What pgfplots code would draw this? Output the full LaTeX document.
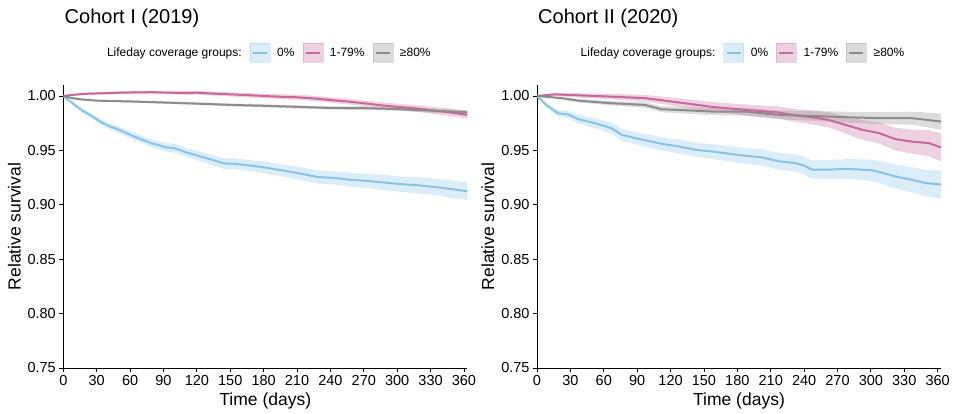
\documentclass[border=0pt]{standalone}
\usepackage{fontspec}
\setmainfont{Liberation Sans}
\usepackage{pgfplots}
\usepackage{pgfplotstable}
\usepgfplotslibrary{fillbetween}
\pgfplotsset{compat=1.18}

\definecolor{cblue}{HTML}{87C4E8}
\definecolor{cpink}{HTML}{C8689C}
\definecolor{cgray}{HTML}{8C8C8C}

% x = days, y = estimate, h = half width of the band
\pgfplotstableread{
x y h
0 1.000 0
5 0.996 .001
10 0.992 .0015
18 0.986 .002
25 0.982 .002
33 0.9765 .0025
42 0.972 .003
50 0.969 .003
63 0.963 .0035
78 0.957 .0035
93 0.9527 .004
100 0.952 .004
111 0.948 .004
123 0.9445 .0045
135 0.941 .0045
144 0.938 .005
153 0.9378 .005
168 0.936 .005
183 0.934 .0055
200 0.931 .0055
213 0.9287 .006
228 0.9256 .006
243 0.9247 .006
258 0.923 .0065
273 0.922 .0065
288 0.9205 .007
303 0.919 .007
318 0.918 .0075
333 0.9165 .0075
348 0.9145 .008
363 0.9125 .008
}\aBlue
\pgfplotstableread{
x y h
0 1.000 0
10 1.0012 .0008
20 1.002 .001
35 1.0025 .0012
50 1.003 .0013
65 1.0033 .0015
80 1.0035 .0015
95 1.003 .0016
110 1.0028 .0017
120 1.003 .0017
135 1.0022 .0018
150 1.0015 .0019
165 1.0008 .002
180 1.0000 .002
195 0.9993 .0022
210 0.9988 .0023
225 0.9978 .0024
240 0.9963 .0025
255 0.995 .0026
270 0.9933 .0027
285 0.9915 .0028
300 0.990 .003
315 0.9888 .003
330 0.987 .0032
345 0.9853 .0034
363 0.9826 .0036
}\aPink
\pgfplotstableread{
x y h
0 1.000 0
8 0.998 .0005
15 0.997 .0007
30 0.9957 .0008
45 0.9953 .0009
60 0.995 .001
75 0.9945 .001
90 0.994 .0011
120 0.993 .0012
150 0.9918 .0013
180 0.991 .0014
210 0.990 .0014
240 0.989 .0015
270 0.9888 .0016
300 0.988 .0017
330 0.9866 .0018
363 0.985 .002
}\aGray
\pgfplotstableread{
x y h
0 1.000 0
8 0.992 .002
19 0.984 .003
28 0.983 .0035
37 0.9787 .004
52 0.975 .0045
67 0.9704 .005
76 0.9643 .0055
88 0.9613 .0058
103 0.958 .006
112 0.956 .006
127 0.9537 .0063
142 0.9506 .0065
157 0.949 .0068
172 0.947 .007
187 0.945 .0072
202 0.9436 .0075
217 0.940 .0078
232 0.9384 .008
240 0.936 .0082
247 0.9323 .0085
262 0.9323 .0088
277 0.933 .009
292 0.9323 .0095
301 0.9317 .0098
312 0.929 .0105
322 0.926 .011
337 0.923 .0115
349 0.920 .012
363 0.9186 .013
}\bBlue
\pgfplotstableread{
x y h
0 1.000 0
16 1.0015 .0015
37 1.0006 .002
67 0.9994 .0025
97 0.998 .003
115 0.9957 .0035
133 0.9933 .004
157 0.990 .0045
187 0.9872 .005
217 0.9848 .0055
235 0.9817 .006
247 0.9805 .0065
262 0.978 .007
277 0.9735 .008
292 0.969 .009
307 0.966 .0095
322 0.9604 .0105
337 0.958 .011
352 0.9567 .012
363 0.9527 .013
}\bPink
\pgfplotstableread{
x y h
0 1.000 0
22 0.998 .0012
37 0.9957 .0015
67 0.9933 .002
97 0.9918 .0025
112 0.9878 .0027
127 0.9872 .003
157 0.9857 .0033
187 0.9857 .0037
217 0.9826 .004
247 0.9817 .0045
277 0.9805 .005
307 0.9796 .0055
337 0.9796 .006
363 0.9765 .0075
}\bGray

\newcommand\band[3]{%
  \addplot[draw=none, name path=#3lo, forget plot] table[x=x, y expr=\thisrow{y}-\thisrow{h}] {#1};
  \addplot[draw=none, name path=#3hi, forget plot] table[x=x, y expr=\thisrow{y}+\thisrow{h}] {#1};
  \addplot[fill=#2, fill opacity=0.3, draw=none, forget plot] fill between[of=#3lo and #3hi];
}
\newcommand\curve[2]{%
  \addplot[color=#2, line width=2pt, forget plot] table[x=x, y=y] {#1};
}
\newcommand\keyimg[1]{%
  \addlegendimage{legend image code/.code={
    \fill[#1, opacity=0.3] (0pt,-9.5pt) rectangle (20pt,9.5pt);
    \draw[#1, line width=2pt] (3pt,0pt) -- (17pt,0pt);}}
}

\pgfplotsset{
  km/.style={
    scale only axis, width=404pt, height=283pt,
    xmin=0, xmax=363, ymin=0.75, ymax=1.0101,
    axis x line*=bottom, axis y line*=left,
    axis line style={black, line width=0.8pt},
    xtick={0,30,...,360}, ytick={0.75,0.8,0.85,0.9,0.95,1},
    yticklabel style={/pgf/number format/.cd, fixed, fixed zerofill, precision=2},
    /pgf/number format/assume math mode=true,
    tick align=outside, major tick length=4pt,
    tick style={black, line width=0.8pt},
    tick label style={font=\fontsize{14.5}{16}\selectfont},
    label style={font=\fontsize{17.5}{19}\selectfont},
    xlabel={Time (days)}, ylabel={Relative survival},
    legend style={at={(0.5,1.114)}, anchor=center, draw=none, fill=none,
      nodes={inner sep=0pt, font=\fontsize{12}{14}\selectfont},
      /tikz/every odd column/.append style={column sep=7pt},
      /tikz/every even column/.append style={column sep=8pt}},
    legend columns=-1,
  },
}

\begin{document}
\begin{tikzpicture}
\begin{axis}[km, at={(63.3pt,46pt)}, anchor=south west]
\band{\aBlue}{cblue}{ab}
\band{\aPink}{cpink}{ap}
\band{\aGray}{cgray}{ag}
\curve{\aBlue}{cblue}
\curve{\aPink}{cpink}
\curve{\aGray}{cgray}
\addlegendimage{empty legend}
\keyimg{cblue}
\keyimg{cpink}
\keyimg{cgray}
\legend{Lifeday coverage groups:, 0\%, 1-79\%, ≥80\%}
\end{axis}
\node[anchor=base west, inner sep=0pt, font=\fontsize{20}{24}\selectfont] at (64.5pt,390pt) {Cohort I (2019)};

\begin{axis}[km, at={(537pt,46pt)}, anchor=south west]
\band{\bBlue}{cblue}{bb}
\band{\bPink}{cpink}{bp}
\band{\bGray}{cgray}{bg}
\curve{\bBlue}{cblue}
\curve{\bPink}{cpink}
\curve{\bGray}{cgray}
\addlegendimage{empty legend}
\keyimg{cblue}
\keyimg{cpink}
\keyimg{cgray}
\legend{Lifeday coverage groups:, 0\%, 1-79\%, ≥80\%}
\end{axis}
\node[anchor=base west, inner sep=0pt, font=\fontsize{20}{24}\selectfont] at (538pt,390pt) {Cohort II (2020)};
\pgfresetboundingbox
\useasboundingbox (0pt,0pt) rectangle (956pt,414pt);
\end{tikzpicture}
\end{document}
